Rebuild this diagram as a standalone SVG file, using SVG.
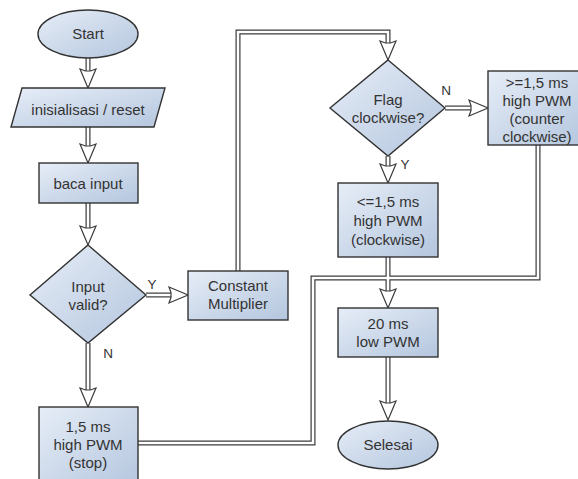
<svg xmlns="http://www.w3.org/2000/svg" xmlns:xlink="http://www.w3.org/1999/xlink" width="578" height="479" viewBox="0 0 578 479">
<defs>
<linearGradient id="g" x1="0" y1="0" x2="1" y2="1">
<stop offset="0" stop-color="#e6edf7"/>
<stop offset="1" stop-color="#b4c6de"/>
</linearGradient>
<path id="ah" d="M-2.5,-17 L-8,-19 L0,0 L8,-19 L2.5,-17 Z"/>
</defs>
<style>
.shape{fill:url(#g);stroke:#333333;stroke-width:1.4}
.t{font-family:"Liberation Sans",Arial,sans-serif;font-size:15px;fill:#333;text-anchor:middle}
.lbl{font-family:"Liberation Sans",Arial,sans-serif;font-size:13.5px;fill:#333;text-anchor:middle}
.outer{fill:none;stroke:#3a3a3a;stroke-width:5;stroke-linejoin:miter}
.inner{fill:none;stroke:#ffffff;stroke-width:2.6;stroke-linejoin:miter}
.head{fill:#ffffff;stroke:#3a3a3a;stroke-width:1.2;stroke-linejoin:miter}
</style>
<rect width="578" height="479" fill="#ffffff"/>
<g id="connectors">
<g class="outer">
<path d="M88,58 V76"/>
<path d="M88,127 V151"/>
<path d="M88,203 V233"/>
<path d="M146,295 H176"/>
<path d="M88,343 V395"/>
<path d="M238,271 V32 H388 V48"/>
<path d="M445,108 H476"/>
<path d="M388,156 V171"/>
<path d="M388,257 V296"/>
<path d="M388,357 V408"/>
<path d="M138,443 H313 V278 H538 V145"/>
</g>
<g class="inner">
<path d="M88,58 V76"/>
<path d="M88,127 V151"/>
<path d="M88,203 V233"/>
<path d="M146,295 H176"/>
<path d="M88,343 V395"/>
<path d="M238,271 V32 H388 V48"/>
<path d="M445,108 H476"/>
<path d="M388,156 V171"/>
<path d="M388,257 V296"/>
<path d="M388,357 V408"/>
<path d="M138,443 H313 V278 H538 V145"/>
</g>
<g class="head">
<use xlink:href="#ah" transform="translate(88,88)"/>
<use xlink:href="#ah" transform="translate(88,163)"/>
<use xlink:href="#ah" transform="translate(88,245)"/>
<use xlink:href="#ah" transform="translate(188,295) rotate(-90)"/>
<use xlink:href="#ah" transform="translate(88,407)"/>
<use xlink:href="#ah" transform="translate(388,60)"/>
<use xlink:href="#ah" transform="translate(488,108) rotate(-90)"/>
<use xlink:href="#ah" transform="translate(388,183)"/>
<use xlink:href="#ah" transform="translate(388,308)"/>
<use xlink:href="#ah" transform="translate(388,420)"/>
</g>
<text class="lbl" x="152" y="289">Y</text>
<text class="lbl" x="108" y="358">N</text>
<text class="lbl" x="446" y="95">N</text>
<text class="lbl" x="405" y="169">Y</text>
</g>
<g id="start">
<ellipse class="shape" cx="88" cy="34" rx="50" ry="24"/>
<text class="t" x="88" y="39">Start</text>
</g>
<g id="init">
<polygon class="shape" points="22,88 165,88 154,127 11,127"/>
<text class="t" x="88" y="115">inisialisasi / reset</text>
</g>
<g id="baca">
<rect class="shape" x="39" y="163" width="99" height="40"/>
<text class="t" x="88" y="189">baca input</text>
</g>
<g id="valid">
<polygon class="shape" points="88,245 146,295 88,343 30,295"/>
<text class="t" x="88" y="292">Input</text>
<text class="t" x="88" y="310">valid?</text>
</g>
<g id="constant">
<rect class="shape" x="188" y="271" width="100" height="49"/>
<text class="t" x="238" y="291">Constant</text>
<text class="t" x="238" y="309">Multiplier</text>
</g>
<g id="stop">
<rect class="shape" x="39" y="407" width="99" height="80"/>
<text class="t" x="88" y="432">1,5 ms</text>
<text class="t" x="88" y="450">high PWM</text>
<text class="t" x="88" y="468">(stop)</text>
</g>
<g id="flag">
<polygon class="shape" points="388,60 445,108 388,156 330,108"/>
<text class="t" x="388" y="105">Flag</text>
<text class="t" x="388" y="123">clockwise?</text>
</g>
<g id="ccw">
<rect class="shape" x="488" y="71" width="98" height="74"/>
<text class="t" x="537" y="88">&gt;=1,5 ms</text>
<text class="t" x="537" y="106">high PWM</text>
<text class="t" x="537" y="124">(counter</text>
<text class="t" x="537" y="142">clockwise)</text>
</g>
<g id="cw">
<rect class="shape" x="338" y="183" width="100" height="74"/>
<text class="t" x="388" y="207">&lt;=1,5 ms</text>
<text class="t" x="388" y="226">high PWM</text>
<text class="t" x="388" y="245">(clockwise)</text>
</g>
<g id="low">
<rect class="shape" x="338" y="308" width="100" height="49"/>
<text class="t" x="388" y="329">20 ms</text>
<text class="t" x="388" y="347">low PWM</text>
</g>
<g id="selesai">
<ellipse class="shape" cx="388" cy="445" rx="50" ry="24"/>
<text class="t" x="388" y="450">Selesai</text>
</g>
</svg>
